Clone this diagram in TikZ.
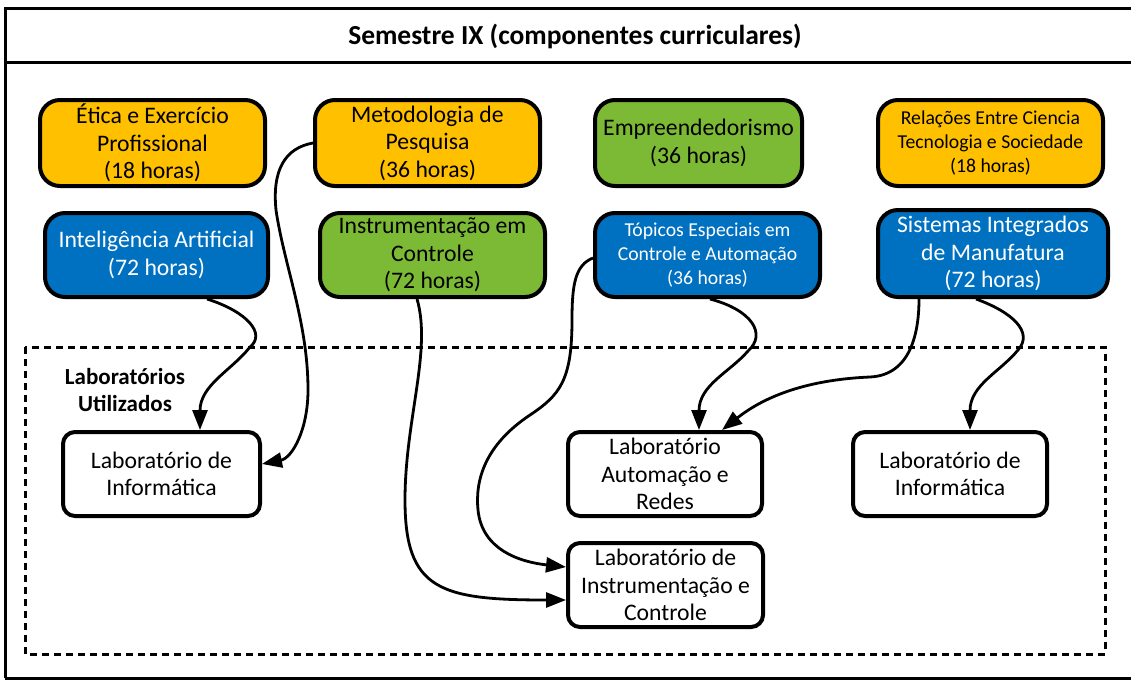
\documentclass[tikz,border=0pt]{standalone}
\usepackage{fontspec}
\setmainfont{Carlito}
\usetikzlibrary{arrows.meta,calc}
\definecolor{amber}{HTML}{FFC000}
\definecolor{leaf}{HTML}{7CBA35}
\definecolor{ocean}{HTML}{0070C0}

\begin{document}
\begin{tikzpicture}[x=1pt,y=-1pt,
  course/.style={draw, line width=4pt, rounded corners=20pt, align=center,
    inner sep=0pt, font=\fontsize{23.7}{27.5}\selectfont},
  smalltext/.style={font=\fontsize{19.7}{24}\selectfont},
  amberbox/.style={course, fill=amber, text=black},
  leafbox/.style={course, fill=leaf, text=black},
  oceanbox/.style={course, fill=ocean, text=white},
  labbox/.style={draw, fill=white, line width=4pt, rounded corners=12pt,
    align=center, inner sep=0pt, minimum width=194pt, minimum height=84pt,
    font=\fontsize{23.7}{27.5}\selectfont},
  link/.style={line width=2.8pt, -{Triangle[length=20pt,width=15pt]}},
  frame/.style={line width=3pt}
]
\useasboundingbox (0,0) rectangle (1131,680);

% outer frame and title strip
\draw[frame] (5,678) -- (5,8) -- (1140,8);
\draw[frame] (5,678) -- (1140,678);
\draw[frame] (5,62) -- (1140,62);
\node[font=\bfseries\fontsize{27.5}{30}\selectfont] (title) at (575,36)
  {Semestre IX (componentes curriculares)};

% dashed area with the laboratories
\draw[line width=3pt, dash pattern=on 7pt off 5pt] (25,347) rectangle (1105,654);
\node[align=center, font=\bfseries\fontsize{23}{27}\selectfont] (labtitle) at (125,390)
  {Laboratórios\\Utilizados};

% course units, first row
\node[amberbox, minimum width=225pt, minimum height=86pt] (etica) at (152.5,143)
  {Ética e Exercício\\Profissional\\(18 horas)};
\node[amberbox, minimum width=225pt, minimum height=86pt] (metod) at (427.5,143)
  {Metodologia de\\Pesquisa\\(36 horas)};
\node[leafbox, minimum width=207pt, minimum height=86pt] (empre) at (698.5,143)
  {Empreendedorismo\\[1pt](36 horas)};
\node[amberbox, smalltext, minimum width=225pt, minimum height=86pt] (relac) at (990.5,143)
  {Relações Entre Ciencia\\Tecnologia e Sociedade\\(18 horas)};

% course units, second row
\node[oceanbox, minimum width=223pt, minimum height=84pt] (intel) at (156.5,255)
  {Inteligência Artificial\\(72 horas)};
\node[leafbox, minimum width=225pt, minimum height=84pt] (instr) at (432.5,255)
  {Instrumentação em\\Controle\\(72 horas)};
\node[oceanbox, smalltext, minimum width=225pt, minimum height=84pt] (topic) at (707.5,255)
  {Tópicos Especiais em\\Controle e Automação\\(36 horas)};
\node[oceanbox, minimum width=230pt, minimum height=87pt] (siste) at (993,253.5)
  {Sistemas Integrados\\de Manufatura\\(72 horas)};

% laboratories
\node[labbox, minimum width=197pt] (labInfA) at (161.5,474)
  {Laboratório de\\Informática};
\node[labbox] (labAuto) at (665,474)
  {Laboratório\\Automação e\\Redes};
\node[labbox] (labInfB) at (950,474)
  {Laboratório de\\Informática};
\node[labbox, minimum width=195pt] (labInst) at (665.5,585)
  {Laboratório de\\Instrumentação e\\Controle};

% connectors from course units to laboratories
\draw[link] ($(intel.south)+(50.5,0)$)
  .. controls (248,312) and (266,334) .. (250,347)
  .. controls (232,370) and (200,385) .. ($(labInfA.north)+(38.5,0)$);
\draw[link] (metod.west)
  .. controls (285,148) and (272,170) .. (276,210)
  .. controls (284,265) and (308,322) .. (308,390)
  .. controls (308,430) and (292,458) .. ($(labInfA.east)+(0,-10)$);
\draw[link] ($(instr.south)+(-15.5,0)$)
  .. controls (432,350) and (405,420) .. (405,500)
  .. controls (405,590) and (440,600) .. ($(labInst.west)+(0,15)$);
\draw[link] ($(topic.west)+(0,3)$)
  .. controls (575,265) and (572,285) .. (572,320)
  .. controls (572,380) and (560,395) .. (530,415)
  .. controls (485,445) and (475,480) .. (478,510)
  .. controls (482,550) and (520,562) .. ($(labInst.west)+(0,-18)$);
\draw[link] ($(topic.south)+(2.5,0)$)
  .. controls (752,310) and (767,334) .. (748,351)
  .. controls (730,372) and (699,385) .. ($(labAuto.north)+(34,0)$);
\draw[link] ($(siste.south)+(-74,0)$)
  .. controls (919,330) and (912,375) .. (870,377)
  .. controls (800,380) and (760,400) .. ($(labAuto.north)+(57,0)$);
\draw[link] ($(siste.south)+(-17,0)$)
  .. controls (1012,312) and (1034,332) .. (1018,350)
  .. controls (1000,372) and (970,385) .. ($(labInfB.north)+(20,0)$);
\end{tikzpicture}
\end{document}
